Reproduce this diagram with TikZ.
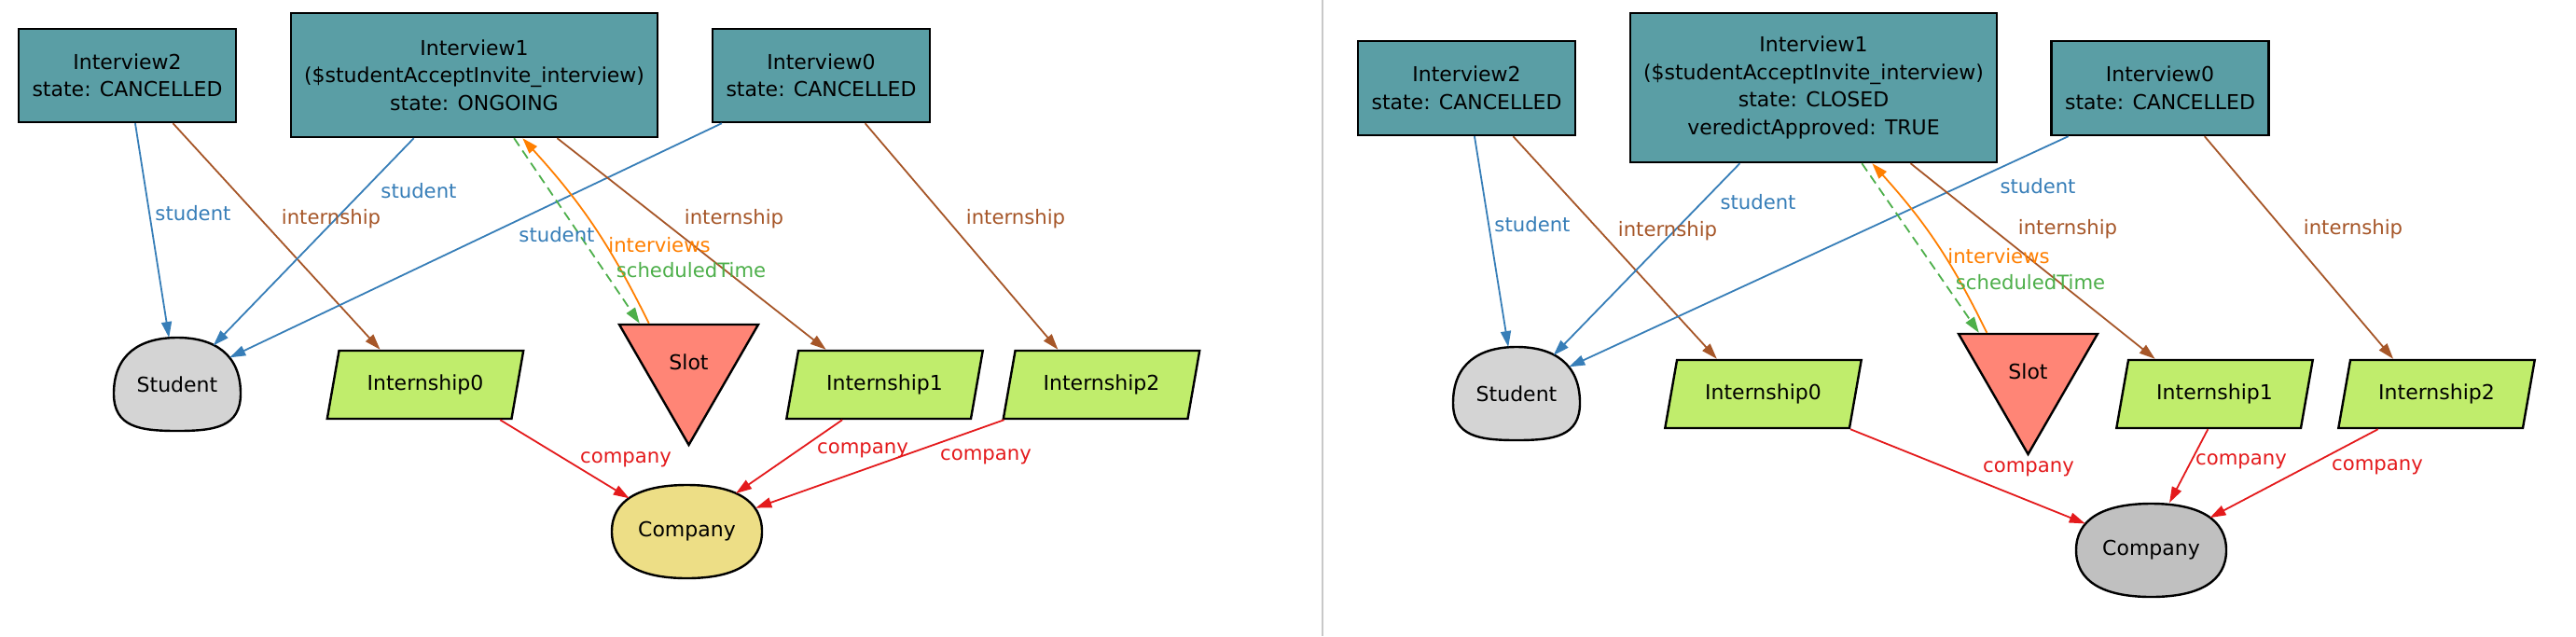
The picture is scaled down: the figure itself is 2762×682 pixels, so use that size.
\documentclass[tikz,border=0pt]{standalone}
\usepackage{fontspec}
\setmainfont{DejaVu Sans}
\usetikzlibrary{arrows.meta,shapes.geometric,calc}
\definecolor{ivfill}{RGB}{90,158,165}
\definecolor{ingreen}{RGB}{192,237,108}
\definecolor{slotfill}{RGB}{255,133,118}
\definecolor{khakifill}{RGB}{237,222,134}
\definecolor{studfill}{RGB}{212,212,212}
\definecolor{compgray}{RGB}{192,192,192}
\definecolor{eblue}{HTML}{377EB8}
\definecolor{ebrown}{HTML}{A65628}
\definecolor{egreen}{HTML}{4DAF4A}
\definecolor{eorange}{HTML}{FF7F00}
\definecolor{ered}{HTML}{E41A1C}
\definecolor{sepgray}{RGB}{200,200,200}
\newcommand\domeat[3]{\filldraw[shapeline,fill=#3] (#1-68,#2+10) .. controls (#1-68,#2-32) and (#1-40,#2-50) .. (#1,#2-50) .. controls (#1+40,#2-50) and (#1+68,#2-32) .. (#1+68,#2+10) .. controls (#1+68,#2+46) and (#1+40,#2+50) .. (#1,#2+50) .. controls (#1-40,#2+50) and (#1-68,#2+46) .. (#1-68,#2+10) -- cycle;}
\newcommand\blobat[3]{\filldraw[shapeline,fill=#3] (#1-80.5,#2) .. controls (#1-80.5,#2-33) and (#1-52,#2-50) .. (#1,#2-50) .. controls (#1+52,#2-50) and (#1+80.5,#2-33) .. (#1+80.5,#2) .. controls (#1+80.5,#2+33) and (#1+52,#2+50) .. (#1,#2+50) .. controls (#1-52,#2+50) and (#1-80.5,#2+33) .. (#1-80.5,#2) -- cycle;}
\begin{document}
\begin{tikzpicture}[x=0.5pt,y=-0.5pt,
  shapeline/.style={draw=black,line width=1.2pt},
  ivbox/.style={shapeline,fill=ivfill,rectangle,inner sep=0pt,align=center,minimum width=116.5pt,minimum height=50pt,font=\fontsize{11}{14.75}\selectfont},
  internbox/.style={shapeline,fill=ingreen,trapezium,trapezium left angle=68,trapezium right angle=112,trapezium stretches=true,minimum width=106pt,minimum height=36.5pt,inner sep=0pt,font=\fontsize{11}{13}\selectfont},
  slotbox/.style={shapeline,fill=slotfill,regular polygon,regular polygon sides=3,shape border rotate=180,minimum size=86pt,inner sep=0pt,font=\fontsize{11}{13}\selectfont},
  studtxt/.style={ellipse,inner sep=0pt,minimum width=68pt,minimum height=50pt,font=\fontsize{11}{13}\selectfont},
  comptxt/.style={ellipse,inner sep=0pt,minimum width=84pt,minimum height=52pt,font=\fontsize{11}{13}\selectfont},
  conn/.style={line width=0.9pt,-{Triangle[length=8.5pt,width=5.5pt]}},
  elabel/.style={inner sep=0pt,font=\fontsize{10.6}{12}\selectfont},
  sepline/.style={draw=sepgray,line width=1pt}]
\useasboundingbox (0,0) rectangle (2762,682);
\fill[white] (0,0) rectangle (2762,682);
\draw[sepline] (1418,0) -- (1418,682);

% ---------- left panel ----------
\domeat{190}{412}{studfill}
\blobat{736.5}{570}{khakifill}
\node[ivbox] (iv2L) at (136.5,81) {Interview2\\state: CANCELLED};
\node[ivbox,minimum width=196.5pt,minimum height=66.5pt] (iv1L) at (508.5,80.5) {Interview1\\(\$studentAcceptInvite\_interview)\\state: ONGOING};
\node[ivbox] (iv0L) at (880.5,81) {Interview0\\state: CANCELLED};
\node[studtxt] (studL) at (190,412) {Student};
\node[internbox] (in0L) at (456,412.5) {Internship0};
\node[slotbox] (slotL) at (738.5,391) {\raisebox{2.5pt}{Slot}};
\node[internbox] (in1L) at (948.5,412.5) {Internship1};
\node[internbox] (in2L) at (1181,412.5) {Internship2};
\node[comptxt] (compL) at (736.5,570) {Company};

\draw[conn,eblue] ($(iv2L.south west)!0.536!(iv2L.south east)$) -- (studL.100);
\draw[conn,ebrown] ($(iv2L.south west)!0.708!(iv2L.south east)$) -- ($(in0L.top left corner)!0.225!(in0L.top right corner)$);
\draw[conn,eblue] ($(iv1L.south west)!0.336!(iv1L.south east)$) -- (studL.47);
\draw[conn,eblue] ($(iv0L.south west)!0.047!(iv0L.south east)$) -- (studL.27);
\draw[conn,egreen,dash pattern=on 5pt off 3pt] ($(iv1L.south west)!0.608!(iv1L.south east)$) -- (slotL.140);
\draw[conn,eorange] (slotL.134) to[bend right=8] ($(iv1L.south west)!0.631!(iv1L.south east)$);
\draw[conn,ebrown] ($(iv1L.south west)!0.725!(iv1L.south east)$) -- ($(in1L.top left corner)!0.153!(in1L.top right corner)$);
\draw[conn,ebrown] ($(iv0L.south west)!0.700!(iv0L.south east)$) -- ($(in2L.top left corner)!0.234!(in2L.top right corner)$);
\draw[conn,ered] ($(in0L.bottom left corner)!0.934!(in0L.bottom right corner)$) -- (compL.150);
\draw[conn,ered] ($(in1L.bottom left corner)!0.306!(in1L.bottom right corner)$) -- (compL.38);
\draw[conn,ered] ($(in2L.bottom left corner)!0.011!(in2L.bottom right corner)$) -- (compL.19);

\node[elabel,text=eblue] (lbA1) at (207,229) {student};
\node[elabel,text=ebrown] (lbA2) at (355,235) {internship};
\node[elabel,text=eblue] (lbA3) at (449,205) {student};
\node[elabel,text=eblue] (lbA4) at (597,252) {student};
\node[elabel,text=eorange] (lbA5) at (707,263) {interviews};
\node[elabel,text=egreen] (lbA6) at (741,290) {scheduledTime};
\node[elabel,text=ebrown] (lbA7) at (787,235) {internship};
\node[elabel,text=ebrown] (lbA8) at (1089,235) {internship};
\node[elabel,text=ered] (lbA9) at (671,493) {company};
\node[elabel,text=ered] (lbA10) at (925,483) {company};
\node[elabel,text=ered] (lbA11) at (1057,490) {company};

% ---------- right panel ----------
\domeat{1626}{422}{studfill}
\blobat{2306.5}{590}{compgray}
\node[ivbox,minimum height=50.5pt] (iv2R) at (1572.5,94.5) {Interview2\\state: CANCELLED};
\node[ivbox,minimum width=196.5pt,minimum height=80pt] (iv1R) at (1944.5,94) {Interview1\\(\$studentAcceptInvite\_interview)\\state: CLOSED\\veredictApproved: TRUE};
\node[ivbox,minimum height=50.5pt] (iv0R) at (2316,94.5) {Interview0\\state: CANCELLED};
\node[studtxt] (studR) at (1626,422) {Student};
\node[internbox] (in0R) at (1890.5,422.5) {Internship0};
\node[slotbox] (slotR) at (2174.5,401) {\raisebox{2.5pt}{Slot}};
\node[internbox] (in1R) at (2374.5,422.5) {Internship1};
\node[internbox] (in2R) at (2612.5,422.5) {Internship2};
\node[comptxt] (compR) at (2306.5,590) {Company};

\draw[conn,eblue] ($(iv2R.south west)!0.536!(iv2R.south east)$) -- (studR.100);
\draw[conn,ebrown] ($(iv2R.south west)!0.712!(iv2R.south east)$) -- ($(in0R.top left corner)!0.219!(in0R.top right corner)$);
\draw[conn,eblue] ($(iv1R.south west)!0.300!(iv1R.south east)$) -- (studR.46);
\draw[conn,eblue] ($(iv0R.south west)!0.082!(iv0R.south east)$) -- (studR.27);
\draw[conn,egreen,dash pattern=on 5pt off 3pt] ($(iv1R.south west)!0.631!(iv1R.south east)$) -- (slotR.140);
\draw[conn,eorange] (slotR.135) to[bend right=8] ($(iv1R.south west)!0.659!(iv1R.south east)$);
\draw[conn,ebrown] ($(iv1R.south west)!0.763!(iv1R.south east)$) -- ($(in1R.top left corner)!0.148!(in1R.top right corner)$);
\draw[conn,ebrown] ($(iv0R.south west)!0.703!(iv0R.south east)$) -- ($(in2R.top left corner)!0.235!(in2R.top right corner)$);
\draw[conn,ered] (in0R.bottom right corner) -- (compR.158);
\draw[conn,ered] ($(in1R.bottom left corner)!0.497!(in1R.bottom right corner)$) -- (compR.69);
\draw[conn,ered] ($(in2R.bottom left corner)!0.219!(in2R.bottom right corner)$) -- (compR.29);

\node[elabel,text=eblue] (lbB1) at (1643,241) {student};
\node[elabel,text=ebrown] (lbB2) at (1788,248) {internship};
\node[elabel,text=eblue] (lbB3) at (1885,217) {student};
\node[elabel,text=eblue] (lbB4) at (2185,200) {student};
\node[elabel,text=eorange] (lbB5) at (2143,275) {interviews};
\node[elabel,text=egreen] (lbB6) at (2177,303) {scheduledTime};
\node[elabel,text=ebrown] (lbB7) at (2217,246) {internship};
\node[elabel,text=ebrown] (lbB8) at (2523,246) {internship};
\node[elabel,text=ered] (lbB9) at (2175,503) {company};
\node[elabel,text=ered] (lbB10) at (2403,495) {company};
\node[elabel,text=ered] (lbB11) at (2549,501) {company};
\end{tikzpicture}
\end{document}
